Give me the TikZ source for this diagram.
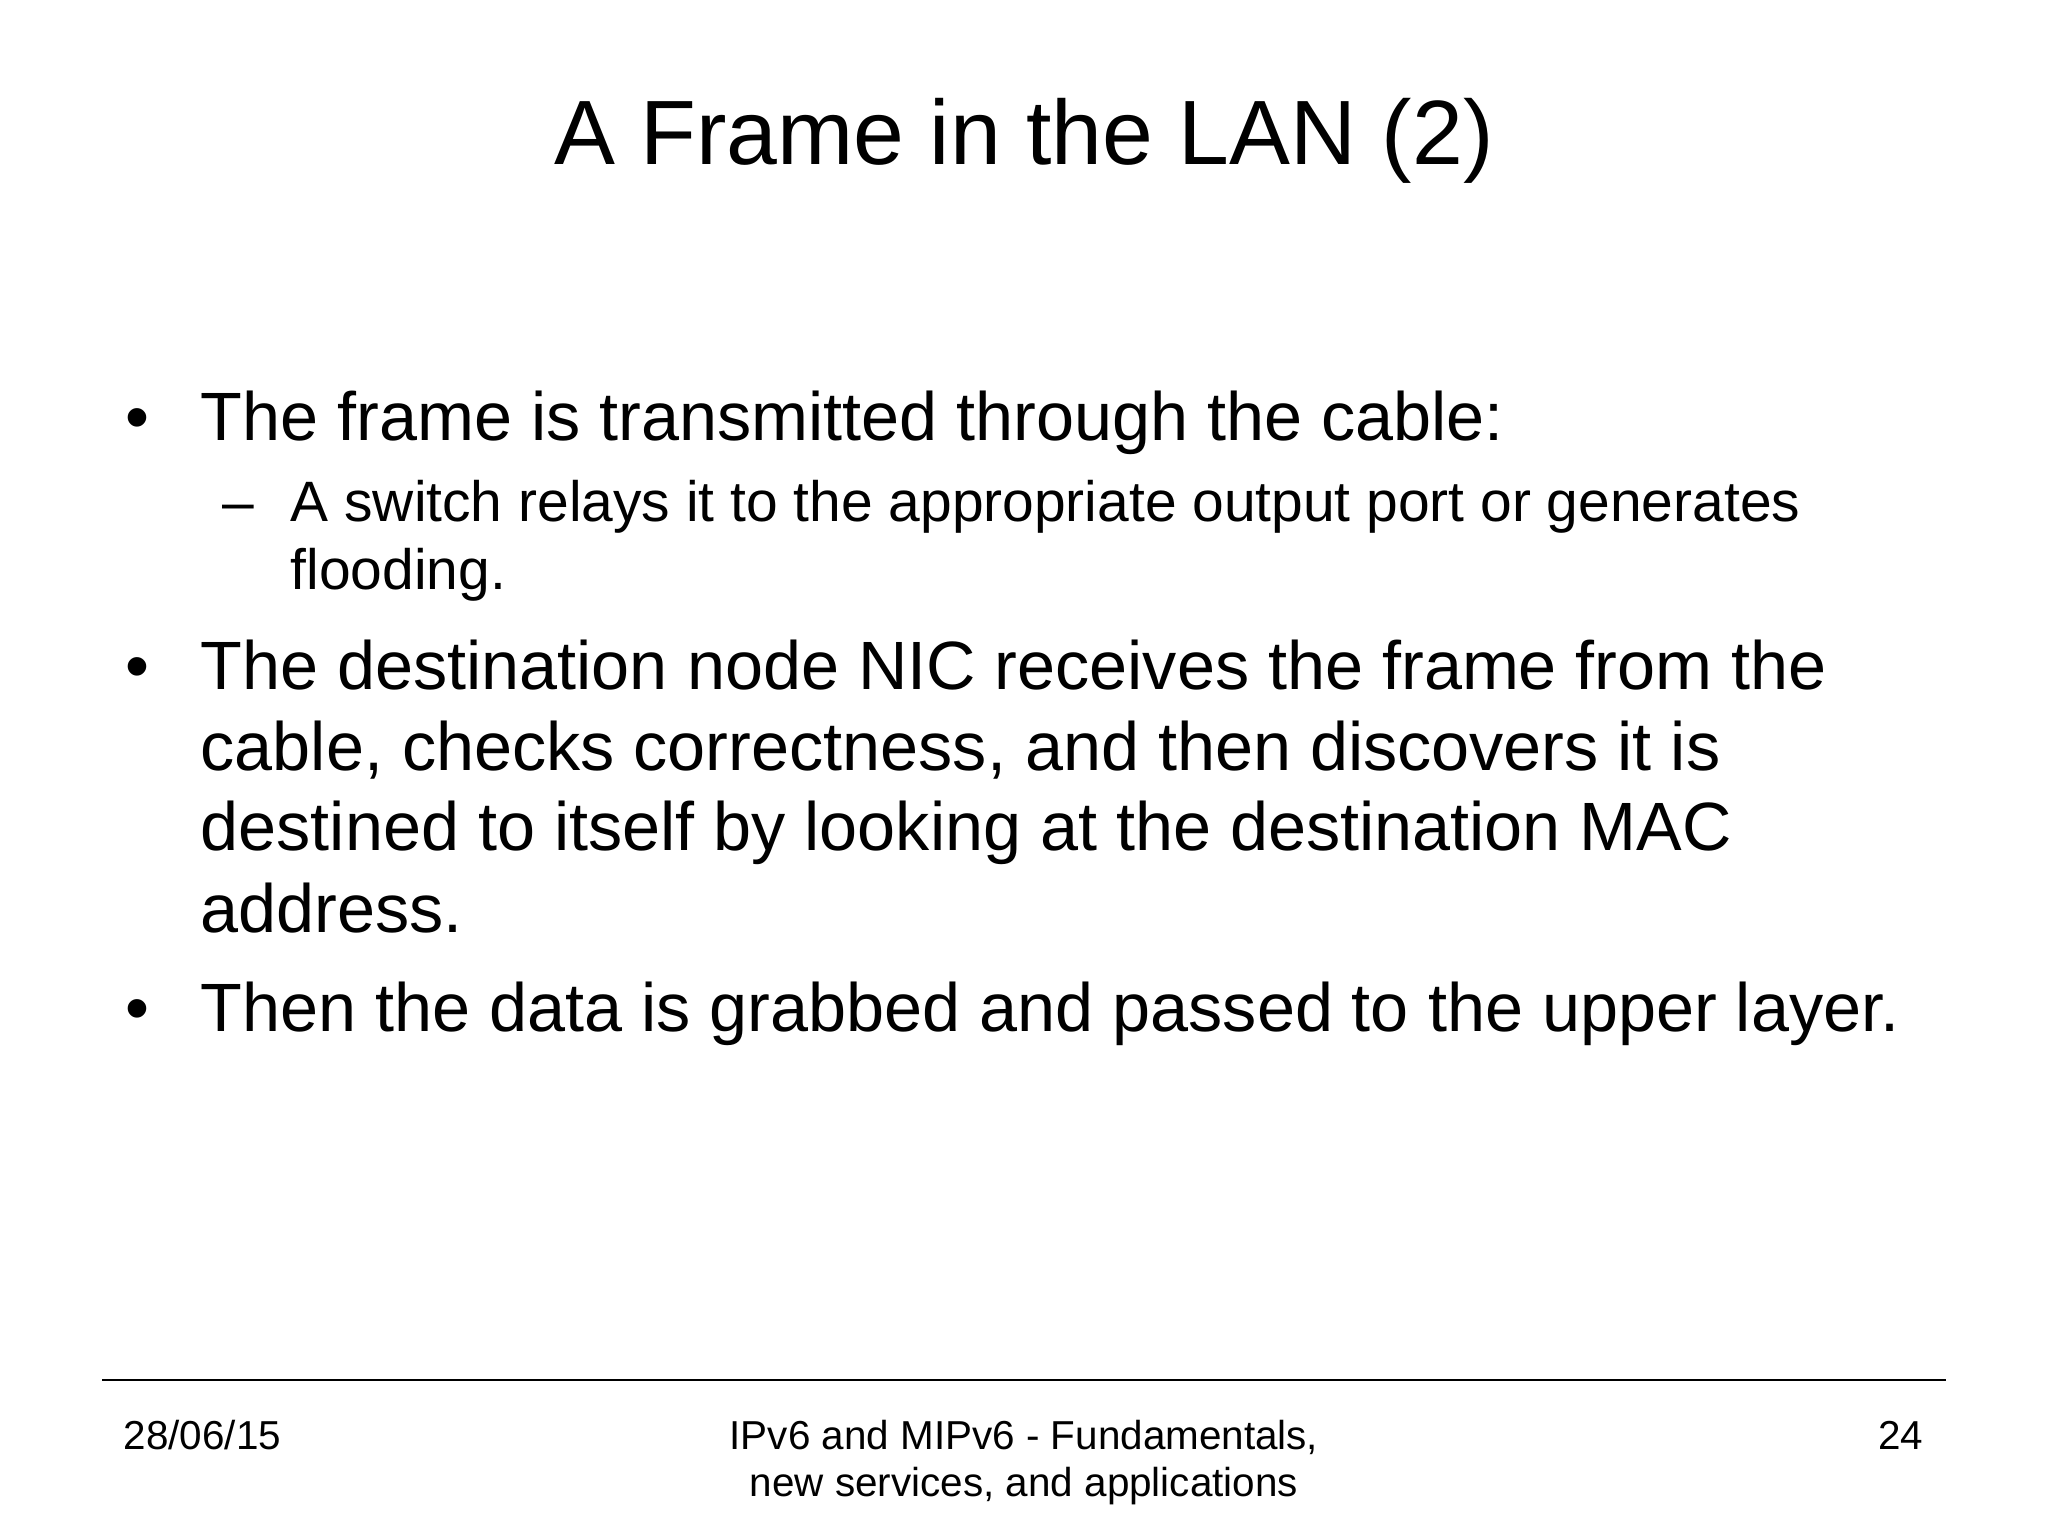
\documentclass[tikz,border=0pt]{standalone}
\usepackage{fontspec}
\setmainfont{Liberation Sans}
\begin{document}
\begin{tikzpicture}[
  big/.style={anchor=base west,inner sep=0pt,font=\fontsize{19.45}{24}\selectfont},
  small/.style={anchor=base west,inner sep=0pt,font=\fontsize{16.2}{19}\selectfont},
  foot/.style={inner sep=0pt,font=\fontsize{11.5}{14}\selectfont}]
\useasboundingbox (0,0) rectangle (20.48,15.36);
\node[anchor=base,inner sep=0pt,font=\fontsize{26}{31}\selectfont] (title) at (10.24,13.71) {A Frame in the LAN (2)};
\node[big] (b1) at (1.25,10.95) {•};
\node[big] (t1) at (2.0,10.95) {The frame is transmitted through the cable:};
\node[small] (d1) at (2.22,10.14) {–};
\node[small] (s1) at (2.90,10.14) {A switch relays it to the appropriate output port or generates};
\node[small] (s2) at (2.90,9.46) {flooding.};
\node[big] (b2) at (1.25,8.46) {•};
\node[big] (t2a) at (2.0,8.46) {The destination node NIC receives the frame from the};
\node[big] (t2b) at (2.0,7.65) {cable, checks correctness, and then discovers it is};
\node[big] (t2c) at (2.0,6.85) {destined to itself by looking at the destination MAC};
\node[big] (t2d) at (2.0,6.03) {address.};
\node[big] (b3) at (1.25,5.04) {•};
\node[big] (t3) at (2.0,5.04) {Then the data is grabbed and passed to the upper layer.};
\coordinate (l1) at (1.02,1.56);
\coordinate (l2) at (19.46,1.56);
\draw[line width=0.8pt] (l1) -- (l2);
\node[foot,anchor=base west] (date) at (1.23,0.86) {28/06/15};
\node[foot,anchor=base] (c1) at (10.24,0.86) {IPv6 and MIPv6 - Fundamentals,};
\node[foot,anchor=base] (c2) at (10.24,0.39) {new services, and applications};
\node[foot,anchor=base east] (pg) at (19.24,0.86) {24};
\end{tikzpicture}
\end{document}
